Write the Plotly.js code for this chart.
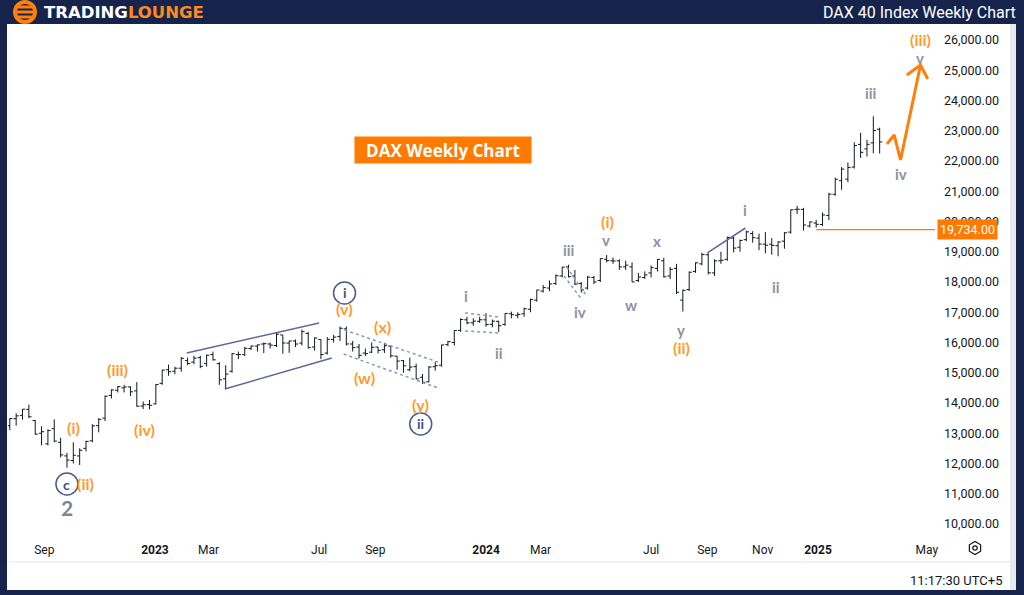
<!DOCTYPE html>
<html>
<head>
<meta charset="utf-8">
<script src="https://cdn.plot.ly/plotly-3.0.1.min.js"></script>
<style>
html,body{margin:0;padding:0;background:#16244b;}
#chart{width:1024px;height:595px;}
</style>
</head>
<body>
<div id="chart"></div>
<script>
// ---------- DATA (weekly DAX 40) ----------
const weeks = [
'2022-07-25','2022-08-01','2022-08-08','2022-08-15','2022-08-22','2022-08-29','2022-09-05','2022-09-12','2022-09-19','2022-09-26','2022-10-03','2022-10-10','2022-10-17','2022-10-24','2022-10-31','2022-11-07','2022-11-14','2022-11-21','2022-11-28','2022-12-05','2022-12-12','2022-12-19','2022-12-26',
'2023-01-02','2023-01-09','2023-01-16','2023-01-23','2023-01-30','2023-02-06','2023-02-13','2023-02-20','2023-02-27','2023-03-06','2023-03-13','2023-03-20','2023-03-27','2023-04-03','2023-04-10','2023-04-17','2023-04-24','2023-05-01','2023-05-08','2023-05-15','2023-05-22','2023-05-29','2023-06-05','2023-06-12','2023-06-19','2023-06-26','2023-07-03','2023-07-10','2023-07-17','2023-07-24','2023-07-31','2023-08-07','2023-08-14','2023-08-21','2023-08-28','2023-09-04','2023-09-11','2023-09-18','2023-09-25','2023-10-02','2023-10-09','2023-10-16','2023-10-23','2023-10-30','2023-11-06','2023-11-13','2023-11-20','2023-11-27','2023-12-04','2023-12-11','2023-12-18','2023-12-25',
'2024-01-01','2024-01-08','2024-01-15','2024-01-22','2024-01-29','2024-02-05','2024-02-12','2024-02-19','2024-02-26','2024-03-04','2024-03-11','2024-03-18','2024-03-25','2024-04-01','2024-04-08','2024-04-15','2024-04-22','2024-04-29','2024-05-06','2024-05-13','2024-05-20','2024-05-27','2024-06-03','2024-06-10','2024-06-17','2024-06-24','2024-07-01','2024-07-08','2024-07-15','2024-07-22','2024-07-29','2024-08-05','2024-08-12','2024-08-19','2024-08-26','2024-09-02','2024-09-09','2024-09-16','2024-09-23','2024-09-30','2024-10-07','2024-10-14','2024-10-21','2024-10-28','2024-11-04','2024-11-11','2024-11-18','2024-11-25','2024-12-02','2024-12-09','2024-12-16','2024-12-23','2024-12-30',
'2025-01-06','2025-01-13','2025-01-20','2025-01-27','2025-02-03','2025-02-10','2025-02-17','2025-02-24','2025-03-03','2025-03-10'];

const openP = [
13250,13480,13590,13790,13420,13000,12650,13150,12700,12250,12100,12250,12500,12750,13250,13500,14250,14420,14500,14530,14400,13900,13950,
13970,14650,15100,15050,15150,15400,15350,15500,15300,15600,15300,14800,15050,15600,15600,15800,15880,15950,15950,15900,16250,15980,16050,15980,16300,15850,16100,15650,16100,16200,16450,15950,15850,15650,15680,15850,15760,15880,15550,15400,15100,15200,14850,14700,15200,15250,15930,16000,16400,16750,16650,16700,
16750,16600,16700,16600,16950,16900,16950,17100,17400,17700,17800,17950,18200,18500,18200,17950,17800,18150,18050,18750,18700,18700,18500,18500,18050,18150,18300,18450,18700,18200,18450,17400,17750,18350,18600,18900,18300,18700,18750,19450,19150,19400,19600,19450,19250,19250,19200,19350,19650,20400,20400,19850,19950,
19900,20200,20900,21350,21400,21800,22550,22400,22600,23050];

const highP = [
13500,13660,13800,13948,13440,13230,13130,13460,12850,12350,12700,12500,12750,13300,13500,14250,14450,14560,14600,14550,14690,14050,14100,
14620,15100,15270,15200,15520,15500,15560,15560,15600,15700,15350,15250,15650,15700,15850,15900,15930,16000,16000,16330,16250,16060,16100,16430,16350,16170,16100,16180,16250,16530,16530,16050,15950,15800,16000,15850,15990,15900,15550,15420,15500,15300,14960,15220,15350,15930,16050,16400,16800,16850,16800,16850,
16970,16760,16720,16970,17020,17000,17150,17450,17740,17900,18050,18250,18500,18570,18400,18000,18200,18200,18780,18890,18810,18750,18700,18650,18300,18350,18550,18760,18800,18500,18600,17750,18350,18650,18970,18950,18750,19000,19500,19500,19400,19700,19680,19600,19650,19450,19350,19650,20400,20520,20450,20000,20050,
20300,20950,21450,21800,21950,22620,22930,22700,23476,23100];

const lowP = [
13100,13250,13450,13500,12950,12600,12600,12700,12200,11862,12000,11950,12400,12700,13030,13400,14150,14350,14350,14230,13880,13800,13790,
13950,14600,14900,14950,15030,15250,15280,15150,15200,15400,14600,14458,15000,15450,15550,15750,15700,15650,15800,15850,15630,15660,15850,15900,15800,15730,15450,15600,16000,16050,15900,15700,15470,15550,15650,15640,15650,15500,15100,15000,15050,14780,14630,14680,15070,15200,15880,15900,16350,16600,16550,16650,
16520,16500,16350,16550,16800,16800,16850,17000,17350,17650,17700,17900,18150,18150,17900,17650,17750,17930,18000,18650,18600,18400,18400,18000,18000,18100,18150,18350,18150,18100,17600,17024,17700,18300,18550,18250,18200,18600,18700,18980,19000,19350,19300,19050,18950,18900,18850,19100,19600,20250,19700,19800,19800,
19850,20050,20850,21050,21300,21750,22100,22150,22250,22250];

const closeP = [
13484,13574,13795,13544,12971,13050,13088,12741,12284,12114,12273,12438,12731,13243,13460,14224,14431,14541,14529,14370,13893,13941,13924,
14610,15087,15033,15150,15476,15307,15482,15210,15578,15428,14768,14957,15629,15598,15808,15882,15922,15961,15914,16275,15983,16051,15950,16358,15830,16148,15603,16105,16177,16469,15952,15832,15574,15632,15840,15740,15893,15557,15387,15229,15187,14798,14687,15189,15234,15919,16029,16397,16759,16650,16706,16752,
16594,16704,16555,16961,16918,16927,17117,17419,17735,17815,17936,18206,18492,18175,17930,17737,18161,18001,18773,18704,18693,18498,18557,18002,18164,18235,18475,18748,18171,18418,17661,17723,18322,18633,18907,18302,18699,18720,19474,19121,19374,19657,19464,19255,19216,19211,19323,19626,20385,20406,19885,19985,19906,
20215,20903,21394,21732,21787,22513,22287,22551,23009,22630];

// axis ticks
const xTickVals = ['2022-09-01','2023-01-01','2023-03-01','2023-07-01','2023-09-01','2024-01-01','2024-03-01','2024-07-01','2024-09-01','2024-11-01','2025-01-01','2025-05-01'];
const xTickText = ['Sep','<b>2023</b>','Mar','Jul','Sep','<b>2024</b>','Mar','Jul','Sep','Nov','<b>2025</b>','May'];
const yTickVals = [10000,11000,12000,13000,14000,15000,16000,17000,18000,19000,20000,21000,22000,23000,24000,25000,26000];

// Elliott wave labels
const orangeText  = ['(i)','(ii)','(iii)','(iv)','(v)','(x)','(w)','(y)','(i)','(ii)','(iii)'];
const orangeDate  = ['2022-10-03','2022-10-16','2022-11-21','2022-12-20','2023-07-29','2023-09-09','2023-08-20','2023-10-21','2024-05-14','2024-08-03','2025-04-24'];
const orangePrice = [13174,11355,15091,13108,17108,16513,14827,13934,20010,15830,26020];

const grayText  = ['2','i','ii','iii','iv','v','w','x','y','i','ii','iii','iv','v'];
const grayDate  = ['2022-09-26','2023-12-10','2024-01-15','2024-04-01','2024-04-14','2024-05-12','2024-06-09','2024-07-08','2024-08-03','2024-10-12','2024-11-16','2025-02-28','2025-04-03','2025-04-24'];
const grayPrice = [10529,17538,15653,19058,17008,19400,17240,19356,16420,20381,17835,24249,21571,25420];

const circleText  = ['c','i','ii'];
const circleDate  = ['2022-09-26','2023-07-29','2023-10-21'];
const circlePrice = [11322,17637,13306];

// trend / channel lines  [date0, price0, date1, price1]
const solidLines = [
  ['2023-02-05',15653,'2023-07-01',16645],
  ['2023-03-19',14463,'2023-07-15',15488],
  ['2024-09-01',18959,'2024-10-13',19785]];
const dottedLines = [
  ['2023-07-29',16413,'2023-11-09',15355],
  ['2023-07-28',15620,'2023-11-09',14496],
  ['2023-12-09',16975,'2024-01-15',16843],
  ['2023-12-09',16380,'2024-01-15',16314],
  ['2024-03-30',18496,'2024-04-21',17537],
  ['2024-03-27',18198,'2024-04-16',17405]];

// projected path and invalidation level
const projDate  = ['2025-03-18','2025-03-26','2025-04-02','2025-04-24'];
const projPrice = [22563,22860,22034,25175];
const arrowDate  = ['2025-04-09','2025-04-24','2025-05-02'];
const arrowPrice = [24843,25175,24711];
const levelPrice = 19734;
const levelStart = '2024-12-30';

// ---------- STYLE ----------
const NAVY = '#16244b';
const ORANGE = '#ff7f0e';
const LABEL_ORANGE = '#ff9a2e';
const GRAY = '#8d929e';
const CIRCLE = '#4a5a8c';
const FONT = 'Lato, "Open Sans", sans-serif';

// pixel -> paper helpers for decoration (plot area: x 8..935, y 24..535)
const PL = 8, PR = 935, PT = 24, PB = 535;
const px = x => (x - PL) / (PR - PL);
const py = y => (PB - y) / (PB - PT);

const traces = [
  {
    type: 'ohlc', x: weeks, open: openP, high: highP, low: lowP, close: closeP,
    increasing: {line: {color: '#131722', width: 1}},
    decreasing: {line: {color: '#131722', width: 1}},
    tickwidth: 0.42, hoverinfo: 'skip', showlegend: false
  },
  {
    type: 'scatter', mode: 'lines', x: projDate, y: projPrice,
    line: {color: ORANGE, width: 3}, hoverinfo: 'skip', showlegend: false
  },
  {
    type: 'scatter', mode: 'lines', x: arrowDate, y: arrowPrice,
    line: {color: ORANGE, width: 3}, hoverinfo: 'skip', showlegend: false
  },
  {
    type: 'scatter', mode: 'markers', x: circleDate, y: circlePrice,
    marker: {symbol: 'circle-open', size: 22, color: CIRCLE, line: {color: CIRCLE, width: 1.5}},
    hoverinfo: 'skip', showlegend: false
  }
];

const shapes = [];
// frame: white chart panel over navy paper
shapes.push({type:'rect', xref:'paper', yref:'paper', layer:'below',
  x0: px(7), x1: px(1010), y0: py(590), y1: py(24), fillcolor:'#ffffff', line:{width:0}});
shapes.push({type:'rect', xref:'paper', yref:'paper', layer:'below',
  x0: px(1010), x1: px(1016), y0: py(590), y1: py(24), fillcolor:'#e9eaee', line:{width:0}});
shapes.push({type:'line', xref:'paper', yref:'paper', layer:'below',
  x0: px(7), x1: px(1010), y0: py(562), y1: py(562), line:{color:'#e6e7eb', width:1}});
// logo
shapes.push({type:'circle', xref:'paper', yref:'paper', layer:'above',
  x0: px(13), x1: px(37), y0: py(24), y1: py(0), fillcolor: ORANGE, line:{width:0}});
shapes.push({type:'circle', xref:'paper', yref:'paper', layer:'above',
  x0: px(17), x1: px(33), y0: py(20), y1: py(4), fillcolor: NAVY, line:{width:0}});
[7, 12, 17].forEach(yy => shapes.push({type:'rect', xref:'paper', yref:'paper', layer:'above',
  x0: px(15), x1: px(35), y0: py(yy+1.5), y1: py(yy-1.5), fillcolor: ORANGE, line:{width:0}}));
// gear icon near time axis
(function(){
  const cx = 975, cy = 548, r = 6.5;
  let d = '';
  for (let k = 0; k < 6; k++) {
    const a = Math.PI / 6 + k * Math.PI / 3;
    d += (k === 0 ? 'M ' : ' L ') + px(cx + r * Math.cos(a)) + ',' + py(cy + r * Math.sin(a));
  }
  d += ' Z';
  shapes.push({type:'path', xref:'paper', yref:'paper', path:d, line:{color:'#131722', width:1.2}});
  shapes.push({type:'circle', xref:'paper', yref:'paper', x0:px(cx-2.2), x1:px(cx+2.2), y0:py(cy+2.2), y1:py(cy-2.2), line:{color:'#131722', width:1.2}});
})();
// channel lines
solidLines.forEach(l => shapes.push({type:'line', xref:'x', yref:'y', x0:l[0], y0:l[1], x1:l[2], y1:l[3],
  line:{color:'#5b6a9a', width:1.5}}));
dottedLines.forEach(l => shapes.push({type:'line', xref:'x', yref:'y', x0:l[0], y0:l[1], x1:l[2], y1:l[3],
  line:{color:'#8a96ba', width:1.5, dash:'dot'}}));
// invalidation level
shapes.push({type:'line', xref:'x', yref:'y', x0: levelStart, x1: '2025-05-10', y0: levelPrice, y1: levelPrice,
  line:{color: '#ff7a00', width: 1.3}});

const annotations = [];
orangeText.forEach((t, i) => annotations.push({x: orangeDate[i], y: orangePrice[i], text: '<b>' + t + '</b>',
  showarrow:false, font:{family: FONT, size: 16, color: LABEL_ORANGE}}));
grayText.forEach((t, i) => annotations.push({x: grayDate[i], y: grayPrice[i], text: '<b>' + t + '</b>',
  showarrow:false, font:{family: FONT, size: t === '2' ? 21 : 15, color: t === '2' ? '#80858f' : GRAY}}));
circleText.forEach((t, i) => annotations.push({x: circleDate[i], y: circlePrice[i], text: '<b>' + t + '</b>',
  showarrow:false, font:{family: FONT, size: 14, color: '#3f4f80'}}));
// level tag
annotations.push({xref:'paper', x: 1.002, xanchor:'left', y: levelPrice, yref:'y', yanchor:'middle',
  text: '19,734.00', showarrow:false, bgcolor:'#ff7a00', borderpad: 2,
  font:{family:'Roboto, sans-serif', size: 12.5, color:'#ffffff'}});
// chart tag
annotations.push({xref:'paper', yref:'paper', x: px(443), y: py(150), xanchor:'center', yanchor:'middle',
  text:'<b>DAX Weekly Chart</b>',
  showarrow:false, bgcolor:'#ff7a00', width: 170, height: 20, borderpad: 3,
  font:{family:'"Open Sans", sans-serif', size: 17, color:'#ffffff'}});
// header
annotations.push({xref:'paper', yref:'paper', x: px(42), y: py(12), xanchor:'left', yanchor:'middle',
  text:'<b>TRADING</b><b><span style="color:#ff8a1f">LOUNGE</span></b>', showarrow:false,
  font:{family:'"DejaVu Sans", sans-serif', size: 16.5, color:'#ffffff'}});
annotations.push({xref:'paper', yref:'paper', x: px(1018), y: py(12), xanchor:'right', yanchor:'middle',
  text:'DAX 40 Index Weekly Chart', showarrow:false,
  font:{family:'Roboto, sans-serif', size: 16, color:'#ffffff'}});
// clock
annotations.push({xref:'paper', yref:'paper', x: px(1005), y: py(580), xanchor:'right', yanchor:'middle',
  text:'11:17:30 UTC+5', showarrow:false,
  font:{family:'Roboto, sans-serif', size: 13, color:'#131722'}});

const layout = {
  width: 1024, height: 595,
  margin: {l: PL, r: 1024 - PR, t: PT, b: 595 - PB, pad: 0},
  paper_bgcolor: NAVY, plot_bgcolor: '#ffffff',
  showlegend: false, hovermode: false,
  xaxis: {
    type: 'date', range: ['2022-07-23', '2025-05-10'],
    tickvals: xTickVals, ticktext: xTickText, ticks: '', ticklabelstandoff: 6,
    tickfont: {family: 'Roboto, sans-serif', size: 12, color: '#131722'},
    showgrid: false, zeroline: false, showline: false,
    rangeslider: {visible: false}, fixedrange: true
  },
  yaxis: {
    side: 'right', range: [9636, 26529], tickvals: yTickVals, tickformat: ',.2f',
    ticks: '', ticklabelstandoff: 8,
    tickfont: {family: 'Roboto, sans-serif', size: 12.5, color: '#131722'},
    showgrid: false, zeroline: false, showline: false, fixedrange: true
  },
  shapes: shapes,
  annotations: annotations
};

Plotly.newPlot('chart', traces, layout, {displayModeBar: false, staticPlot: true});
</script>
</body>
</html>
